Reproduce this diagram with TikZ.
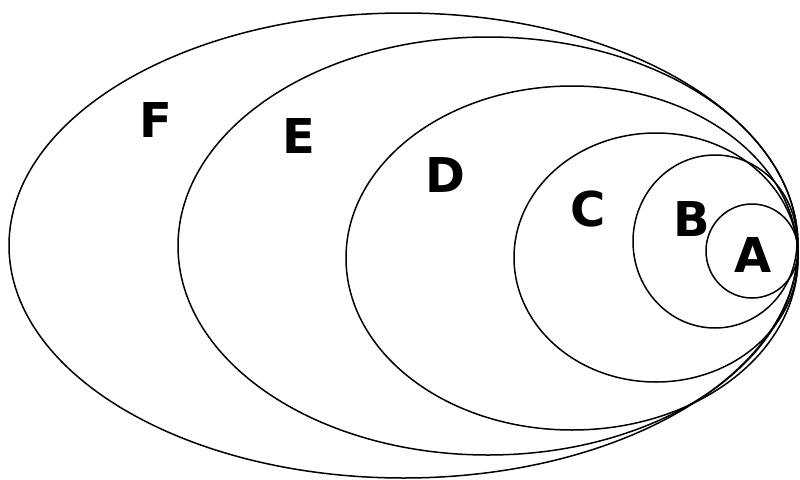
\documentclass[tikz,border=0pt]{standalone}
\usepackage{fontspec}
\setmainfont{DejaVu Sans}

\begin{document}
\begin{tikzpicture}[x=1pt,y=-1pt,
  ring/.style={line width=1.5pt},
  setlabel/.style={font=\fontsize{48}{52}\selectfont\bfseries, inner sep=0pt}]
\useasboundingbox (0,0) rectangle (800,479);
\draw[ring] (403.5,245.5) ellipse [x radius=394.5pt, y radius=232.5pt];
\draw[ring] (488,246) ellipse [x radius=310pt, y radius=209pt];
\draw[ring] (572,258) ellipse [x radius=226pt, y radius=172pt];
\draw[ring] (656,257.5) ellipse [x radius=142pt, y radius=124.5pt];
\draw[ring] (715,241.5) ellipse [x radius=82pt, y radius=86.5pt];
\draw[ring] (752,251) ellipse [x radius=46pt, y radius=47pt];
\node[setlabel] (labF) at (156,120) {F};
\node[setlabel] (labE) at (299,136) {E};
\node[setlabel] (labD) at (445,175) {D};
\node[setlabel] (labC) at (588,209) {C};
\node[setlabel] (labB) at (692,219) {B};
\node[setlabel] (labA) at (753,255) {A};
\end{tikzpicture}
\end{document}
